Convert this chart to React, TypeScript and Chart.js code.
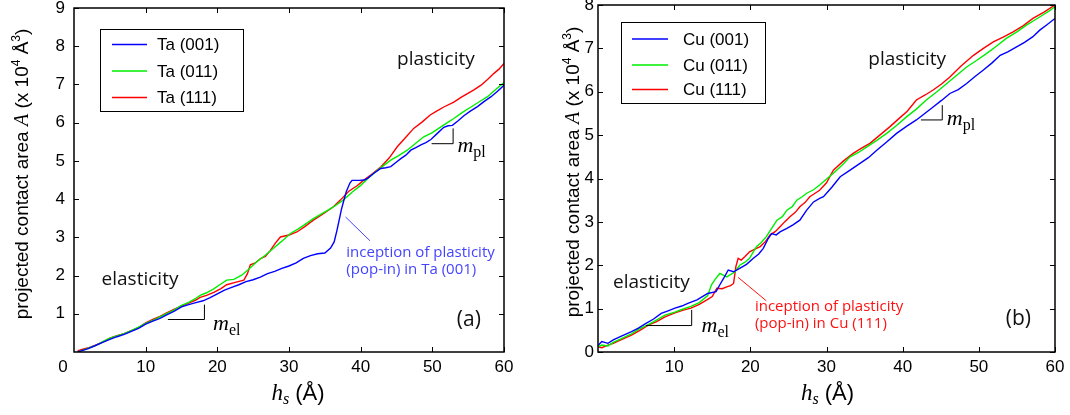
import React, { useEffect, useRef } from "react";
import { Chart, registerables } from "chart.js";

Chart.register(...registerables);

// ---------- Panel (a): tantalum ----------
const taHs001 = [0.5, 1, 2, 3, 4, 5, 6, 7, 8, 9, 10, 11, 12, 13, 14, 15, 16, 17, 18, 19, 20, 21, 22, 23, 24, 25, 26, 27, 28, 29, 30, 31, 32, 33, 34, 35,
  35.8, 36.3, 36.7, 37.0, 37.3, 37.6, 38.0, 38.5, 38.8,
  39.8, 40.5, 41.0, 41.8, 42.8, 43.5, 44.2, 45.0, 45.6, 46.3,
  47.0, 47.7, 48.4, 49.1, 49.8, 50.7, 51.6, 52.2, 52.8, 53.6,
  54.4, 55.3, 56.3, 57.2, 58.2, 59.1, 60];
const taA001 = [0, 0.03, 0.09, 0.17, 0.25, 0.33, 0.40, 0.46, 0.54, 0.62, 0.73, 0.81, 0.88, 0.98, 1.07, 1.18, 1.24, 1.29, 1.34, 1.42, 1.52, 1.62, 1.69, 1.76, 1.84, 1.89, 1.96, 2.05, 2.11, 2.19, 2.25, 2.33, 2.45, 2.52, 2.57, 2.59,
  2.72, 2.88, 3.19, 3.45, 3.72, 3.93, 4.20, 4.42, 4.49,
  4.49, 4.50, 4.55, 4.67, 4.80, 4.82, 4.85, 4.97, 5.06, 5.15,
  5.28, 5.35, 5.42, 5.48, 5.56, 5.72, 5.88, 5.92, 5.93, 6.05,
  6.18, 6.30, 6.42, 6.55, 6.68, 6.82, 6.98];

const taHs011 = [0.5, 1, 2, 3, 4, 5, 6, 7, 8, 9, 10, 11, 12, 13, 14, 15, 16, 17,
  17.6, 18.5, 19.5, 20.5, 21.3, 22.3, 23.4, 24.3, 25.5, 26.6,
  27.8, 29, 30.2, 31.3, 32.4, 33.4, 34.6, 35.8, 36.7, 37.6,
  38.8, 40, 40.9, 41.8, 43, 44.2, 45.3, 46.5, 47.6, 48.8,
  50, 51.2, 52.1, 53, 54.2, 55.4, 56.5, 57.7, 58.8, 60];
const taA011 = [0, 0.03, 0.10, 0.17, 0.27, 0.36, 0.42, 0.48, 0.56, 0.65, 0.75, 0.83, 0.92, 1.01, 1.10, 1.22, 1.30, 1.40,
  1.48, 1.55, 1.65, 1.78, 1.88, 1.90, 2.01, 2.15, 2.36, 2.52,
  2.71, 2.90, 3.10, 3.22, 3.36, 3.49, 3.62, 3.75, 3.86, 3.98,
  4.18, 4.36, 4.52, 4.67, 4.85, 5.02, 5.14, 5.28, 5.45, 5.63,
  5.74, 5.89, 6.00, 6.11, 6.27, 6.41, 6.54, 6.68, 6.86, 7.05];

const taHs111 = [0.5, 1, 2, 3, 4, 5, 6, 7, 8, 9, 10, 11, 12, 13, 14, 15, 16, 17,
  17.6, 18.5, 19.5, 20.5, 21.3, 22.5, 23.7, 24.2, 24.6, 25.3,
  26, 26.7, 27.4, 28.1, 28.8, 30, 31.1, 32.2, 33.4, 34.8,
  36.2, 37.2, 38.3, 39.5, 40.4, 41.4, 42.8, 44, 45.1, 46.3,
  47.4, 48.6, 49.7, 50.6, 51.6, 53, 54, 54.9, 55.8, 56.8,
  57.7, 58.6, 59.3, 60];
const taA111 = [0.03, 0.06, 0.11, 0.18, 0.26, 0.36, 0.43, 0.48, 0.56, 0.64, 0.76, 0.85, 0.93, 1.03, 1.12, 1.20, 1.28, 1.36,
  1.43, 1.48, 1.56, 1.66, 1.76, 1.82, 1.88, 2.05, 2.28, 2.33,
  2.44, 2.50, 2.66, 2.85, 3.01, 3.06, 3.14, 3.28, 3.45, 3.62,
  3.80, 3.98, 4.20, 4.35, 4.49, 4.63, 4.84, 5.08, 5.37, 5.62,
  5.85, 6.02, 6.20, 6.30, 6.41, 6.54, 6.66, 6.76, 6.86, 6.98,
  7.13, 7.29, 7.40, 7.55];

// ---------- Panel (b): copper ----------
const cuHs001 = [0, 0.5, 1.3, 2, 3, 4.4, 5.3, 6.3, 7.3, 8.3,
  9.2, 10.1, 11, 11.8, 13, 14.4, 15.5, 16, 16.6, 17.1,
  17.8, 18.6, 19.5, 20.4, 21.1, 21.7, 22.3, 22.8, 23.4, 23.9,
  24.8, 25.6, 26.5, 27.4, 28.3, 29.1, 29.6, 30.7, 31.8, 33,
  34.4, 35.5, 36.6, 37.9, 39.2, 40.5, 41.8, 42.9, 44, 45.1,
  46.2, 47.3, 48.4, 49.5, 50.6, 51.7, 52.8, 53.8, 54.9, 56,
  57.1, 58, 58.9, 60];
const cuA001 = [0.15, 0.24, 0.20, 0.28, 0.36, 0.47, 0.55, 0.66, 0.76, 0.89,
  0.95, 1.01, 1.06, 1.12, 1.20, 1.35, 1.39, 1.55, 1.73, 1.89,
  1.85, 1.93, 2.02, 2.16, 2.26, 2.39, 2.60, 2.73, 2.70, 2.77,
  2.85, 2.93, 3.04, 3.27, 3.46, 3.54, 3.58, 3.80, 4.04, 4.18,
  4.35, 4.48, 4.65, 4.84, 5.04, 5.20, 5.35, 5.50, 5.65, 5.80,
  5.96, 6.05, 6.19, 6.35, 6.50, 6.66, 6.84, 6.92, 7.03, 7.14,
  7.27, 7.42, 7.54, 7.69];

const cuHs011 = [0, 0.5, 1.3, 2, 3, 4.4, 5.3, 6.6, 7.5, 8.8,
  10.1, 11, 12.2, 13.3, 14.4, 14.9, 15.4, 16, 16.9, 18,
  18.6, 19.3, 19.9, 20.8, 21.4, 22.1, 22.8, 23.5, 24.2, 24.8,
  25.5, 26.1, 26.8, 27.4, 28.3, 29.1, 30.9, 32, 33.1, 34.2,
  35.3, 36.6, 37.9, 39.2, 40.5, 41.8, 43.1, 44.5, 45.8, 47.1,
  48.4, 49.7, 51, 52.3, 53.6, 55, 56.3, 57.4, 58.4, 59.2,
  60];
const cuA011 = [0.12, 0.16, 0.14, 0.22, 0.30, 0.42, 0.52, 0.63, 0.72, 0.85,
  0.92, 0.98, 1.05, 1.14, 1.30, 1.55, 1.68, 1.81, 1.73, 1.85,
  2.00, 2.07, 2.16, 2.43, 2.52, 2.66, 2.85, 3.04, 3.12, 3.27,
  3.35, 3.50, 3.58, 3.66, 3.74, 3.85, 4.12, 4.30, 4.50, 4.60,
  4.73, 4.88, 5.04, 5.22, 5.42, 5.60, 5.81, 6.00, 6.19, 6.38,
  6.57, 6.72, 6.88, 7.05, 7.23, 7.38, 7.54, 7.66, 7.77, 7.86,
  7.96];

const cuHs111 = [0, 0.5, 1.3, 2, 3, 4.4, 5.5, 6.6, 7.7, 8.8,
  10.1, 11.1, 12.2, 13.3, 14.3, 15, 15.6, 16.3, 16.9, 17.4,
  17.8, 18.1, 18.4, 18.8, 19.3, 19.9, 20.6, 21.3, 22, 22.6,
  23.3, 23.9, 24.5, 25.2, 25.9, 26.5, 27.2, 27.8, 28.5, 29.1,
  30, 30.9, 32.2, 33.5, 34.6, 35.7, 37, 38.3, 39.5, 40.6,
  41.8, 42.9, 44, 45.1, 46.2, 47.7, 49.3, 50.6, 51.9, 53.2,
  54.5, 55.8, 57.1, 58.5, 60];
const cuA111 = [0.12, 0.10, 0.16, 0.20, 0.28, 0.39, 0.50, 0.62, 0.70, 0.81,
  0.90, 0.96, 1.01, 1.10, 1.20, 1.28, 1.47, 1.46, 1.50, 1.53,
  1.58, 1.97, 2.16, 2.12, 2.20, 2.31, 2.37, 2.43, 2.55, 2.70,
  2.78, 2.89, 3.00, 3.12, 3.22, 3.35, 3.45, 3.58, 3.66, 3.73,
  3.90, 4.19, 4.40, 4.58, 4.70, 4.81, 5.00, 5.19, 5.38, 5.55,
  5.81, 5.92, 6.04, 6.18, 6.34, 6.60, 6.84, 7.00, 7.15, 7.26,
  7.38, 7.52, 7.69, 7.83, 8.00];

// Tick values and labels
const hsTicks = [10, 20, 30, 40, 50, 60];
const taTicks = [1, 2, 3, 4, 5, 6, 7, 8, 9];
const cuTicks = [0, 1, 2, 3, 4, 5, 6, 7, 8];
const taLabels = ["Ta (001)", "Ta (011)", "Ta (111)"];
const cuLabels = ["Cu (001)", "Cu (011)", "Cu (111)"];
const seriesColors = ["#0000ff", "#00ee00", "#ff0000"];

const SANS = '"Liberation Sans", Arial, Helvetica, sans-serif';
const SERIF = '"Liberation Serif", "Times New Roman", serif';
const CAL = '"Open Sans", "Noto Sans", sans-serif';

type Seg = { t: string; font: string; dy?: number };

function drawRich(ctx: CanvasRenderingContext2D, segs: Seg[], x: number, y: number, align: "left" | "center") {
  let w = 0;
  for (const s of segs) {
    ctx.font = s.font;
    w += ctx.measureText(s.t).width;
  }
  let cx = align === "center" ? x - w / 2 : x;
  ctx.textAlign = "left";
  ctx.textBaseline = "alphabetic";
  for (const s of segs) {
    ctx.font = s.font;
    ctx.fillText(s.t, cx, y + (s.dy || 0));
    cx += ctx.measureText(s.t).width;
  }
}

const yTitle: Seg[] = [
  { t: "projected contact area ", font: `19px ${SANS}` },
  { t: "A", font: `italic 20px ${SERIF}` },
  { t: " (x 10", font: `19px ${SANS}` },
  { t: "4", font: `12px ${SANS}`, dy: -8 },
  { t: " Å", font: `19px ${SANS}` },
  { t: "3", font: `12px ${SANS}`, dy: -8 },
  { t: ")", font: `19px ${SANS}` },
];
const xTitle: Seg[] = [
  { t: "h", font: `italic 23px ${SERIF}` },
  { t: "s", font: `italic 16px ${SERIF}`, dy: 4 },
  { t: " (Å)", font: `22px ${SANS}` },
];
const slopeLabel = (sub: string): Seg[] => [
  { t: "m", font: `italic 22px ${SERIF}` },
  { t: sub, font: `16px ${SERIF}`, dy: 5 },
];

type Note = {
  plastic: [number, number];
  elastic: [number, number];
  elMark: [number, number, number, number];
  elText: [number, number];
  plMark: [number, number, number, number];
  plText: [number, number];
  pointer: [number, number, number, number];
  popText: [number, number, number];
  popLines: string[];
  popColor: string;
  tag: string;
  tagPos: [number, number];
};

type Spec = {
  hs: number[][];
  area: number[][];
  labels: string[];
  yTicks: number[];
  yMax: number;
  box: { left: number; right: number; top: number; bottom: number };
  yPad: number;
  legend: { x0: number; y0: number; w: number; h: number; lx0: number; lx1: number; tx: number; rows: number[] };
  yTitleX: number;
  yTitleY: number;
  xTitleDx: number;
  zeroLabel: boolean;
  note: Note;
};

const W = 535;
const H = 415;

const panelA: Spec = {
  hs: [taHs001, taHs011, taHs111],
  area: [taA001, taA011, taA111],
  labels: taLabels,
  yTicks: taTicks,
  yMax: 9,
  box: { left: 74, right: 504, top: 8, bottom: 352 },
  yPad: 9,
  legend: { x0: 100.5, y0: 29.5, w: 143, h: 82, lx0: 112, lx1: 147, tx: 157, rows: [44.5, 71, 97.5] },
  yTitleX: 28,
  yTitleY: 174,
  xTitleDx: 9,
  zeroLabel: true,
  note: {
    plastic: [50.5, 7.64],
    elastic: [3.85, 1.9],
    elMark: [13.1, 18.2, 0.85, 1.24],
    elText: [19.4, 0.57],
    plMark: [49.9, 52.9, 5.45, 5.85],
    plText: [53.5, 5.24],
    pointer: [37.9, 3.53, 41.3, 2.91],
    popText: [38.0, 2.59, 2.14],
    popLines: ["inception of plasticity", "(pop-in) in Ta (001)"],
    popColor: "#4444ff",
    tag: "(a)",
    tagPos: [55.1, 0.83],
  },
};

const panelB: Spec = {
  hs: [cuHs001, cuHs011, cuHs111],
  area: [cuA001, cuA011, cuA111],
  labels: cuLabels,
  yTicks: cuTicks,
  yMax: 8,
  box: { left: 63, right: 520, top: 5, bottom: 352 },
  yPad: 4,
  legend: { x0: 86.5, y0: 22.5, w: 144, h: 81, lx0: 97, lx1: 133, tx: 148, rows: [39, 65, 89.5] },
  yTitleX: 44,
  yTitleY: 172,
  xTitleDx: 1,
  zeroLabel: false,
  note: {
    plastic: [40.6, 6.73],
    elastic: [1.97, 1.59],
    elMark: [6.3, 12.3, 0.61, 0.97],
    elText: [13.6, 0.47],
    plMark: [42.4, 45.2, 5.35, 5.69],
    plText: [45.8, 5.23],
    pointer: [18.4, 1.72, 22.1, 1.18],
    popText: [20.6, 1.04, 0.66],
    popLines: ["inception of plasticity", "(pop-in) in Cu (111)"],
    popColor: "#ff1111",
    tag: "(b)",
    tagPos: [55.2, 0.75],
  },
};

function makeDecor(spec: Spec) {
  return {
    id: "decor",
    afterDatasetsDraw(chart: any) {
      const ctx: CanvasRenderingContext2D = chart.ctx;
      const a = chart.chartArea;
      const sx = chart.scales.x;
      const sy = chart.scales.y;
      const px = (v: number) => sx.getPixelForValue(v);
      const py = (v: number) => sy.getPixelForValue(v);
      const n = spec.note;
      ctx.save();

      // frame box
      ctx.strokeStyle = "#000";
      ctx.lineWidth = 1.5;
      ctx.strokeRect(a.left, a.top, a.right - a.left, a.bottom - a.top);

      // inward ticks on all four sides
      ctx.lineWidth = 1;
      ctx.beginPath();
      for (const v of hsTicks) {
        const p = Math.round(px(v)) + 0.5;
        ctx.moveTo(p, a.bottom);
        ctx.lineTo(p, a.bottom - 5);
        ctx.moveTo(p, a.top);
        ctx.lineTo(p, a.top + 5);
      }
      for (const v of spec.yTicks) {
        const p = Math.round(py(v)) + 0.5;
        ctx.moveTo(a.left, p);
        ctx.lineTo(a.left + 5, p);
        ctx.moveTo(a.right, p);
        ctx.lineTo(a.right - 5, p);
      }
      ctx.stroke();

      ctx.fillStyle = "#000";
      if (spec.zeroLabel) {
        ctx.font = `17px ${SANS}`;
        ctx.textAlign = "center";
        ctx.textBaseline = "middle";
        ctx.fillText("0", a.left - 11, a.bottom + 15);
      }

      // legend
      const L = spec.legend;
      ctx.fillStyle = "#fff";
      ctx.fillRect(L.x0, L.y0, L.w, L.h);
      ctx.strokeStyle = "#000";
      ctx.lineWidth = 1;
      ctx.strokeRect(L.x0, L.y0, L.w, L.h);
      ctx.font = `17px ${SANS}`;
      ctx.textAlign = "left";
      ctx.textBaseline = "middle";
      spec.labels.forEach((lab, i) => {
        ctx.strokeStyle = seriesColors[i];
        ctx.lineWidth = 1.5;
        ctx.beginPath();
        ctx.moveTo(L.lx0, L.rows[i]);
        ctx.lineTo(L.lx1, L.rows[i]);
        ctx.stroke();
        ctx.fillStyle = "#000";
        ctx.fillText(lab, L.tx, L.rows[i] + 1);
      });

      // regime labels
      ctx.fillStyle = "#111";
      ctx.font = `19px ${CAL}`;
      ctx.textBaseline = "middle";
      ctx.textAlign = "center";
      ctx.fillText("plasticity", px(n.plastic[0]), py(n.plastic[1]));
      ctx.textAlign = "left";
      ctx.fillText("elasticity", px(n.elastic[0]), py(n.elastic[1]));

      // slope markers
      ctx.strokeStyle = "#000";
      ctx.lineWidth = 1;
      for (const m of [n.elMark, n.plMark]) {
        ctx.beginPath();
        ctx.moveTo(px(m[0]), py(m[2]));
        ctx.lineTo(px(m[1]), py(m[2]));
        ctx.lineTo(px(m[1]), py(m[3]));
        ctx.stroke();
      }
      ctx.fillStyle = "#000";
      drawRich(ctx, slopeLabel("el"), px(n.elText[0]), py(n.elText[1]), "left");
      drawRich(ctx, slopeLabel("pl"), px(n.plText[0]), py(n.plText[1]), "left");

      // pop-in pointer and note
      ctx.strokeStyle = n.popColor;
      ctx.lineWidth = 1;
      ctx.beginPath();
      ctx.moveTo(px(n.pointer[0]), py(n.pointer[1]));
      ctx.lineTo(px(n.pointer[2]), py(n.pointer[3]));
      ctx.stroke();
      ctx.fillStyle = n.popColor;
      ctx.font = `15px ${CAL}`;
      ctx.textAlign = "left";
      ctx.textBaseline = "middle";
      ctx.fillText(n.popLines[0], px(n.popText[0]), py(n.popText[1]));
      ctx.fillText(n.popLines[1], px(n.popText[0]), py(n.popText[2]));

      // panel tag
      ctx.fillStyle = "#111";
      ctx.font = `21px ${CAL}`;
      ctx.textAlign = "center";
      ctx.fillText(n.tag, px(n.tagPos[0]), py(n.tagPos[1]));

      // axis titles
      ctx.fillStyle = "#000";
      ctx.save();
      ctx.translate(spec.yTitleX, spec.yTitleY);
      ctx.rotate(-Math.PI / 2);
      drawRich(ctx, yTitle, 0, 0, "center");
      ctx.restore();
      drawRich(ctx, xTitle, (a.left + a.right) / 2 + spec.xTitleDx, 400, "center");

      ctx.restore();
    },
  };
}

function Panel({ spec }: { spec: Spec }) {
  const ref = useRef<HTMLCanvasElement | null>(null);
  useEffect(() => {
    if (!ref.current) return;
    const b = spec.box;
    const chart = new Chart(ref.current, {
      type: "line",
      data: {
        datasets: spec.labels.map((lab, i) => ({
          label: lab,
          data: spec.hs[i].map((x, k) => ({ x, y: spec.area[i][k] })),
          borderColor: seriesColors[i],
          borderWidth: 1.4,
          pointRadius: 0,
          tension: 0,
          fill: false,
        })),
      },
      options: {
        animation: false,
        responsive: false,
        devicePixelRatio: 1,
        events: [],
        layout: { padding: { left: 0, top: b.top, right: W - b.right, bottom: 0 } },
        plugins: { legend: { display: false }, tooltip: { enabled: false }, title: { display: false } },
        scales: {
          x: {
            type: "linear",
            min: 0,
            max: 60,
            afterBuildTicks: (s: any) => {
              s.ticks = hsTicks.map((v) => ({ value: v }));
            },
            afterFit: (s: any) => {
              s.height = H - b.bottom;
              s.paddingLeft = 0;
              s.paddingRight = 0;
            },
            ticks: { font: { family: SANS, size: 17 }, color: "#000", padding: 5, maxRotation: 0, autoSkip: false },
            grid: { display: false, drawTicks: false },
            border: { display: false },
          },
          y: {
            type: "linear",
            min: 0,
            max: spec.yMax,
            afterBuildTicks: (s: any) => {
              s.ticks = spec.yTicks.map((v) => ({ value: v }));
            },
            afterFit: (s: any) => {
              s.width = b.left;
              s.paddingTop = 0;
              s.paddingBottom = 0;
            },
            ticks: { font: { family: SANS, size: 17 }, color: "#000", padding: spec.yPad, autoSkip: false },
            grid: { display: false, drawTicks: false },
            border: { display: false },
          },
        },
      },
      plugins: [makeDecor(spec)],
    } as any);
    return () => chart.destroy();
  }, [spec]);
  return <canvas ref={ref} width={W} height={H} style={{ display: "block", width: W, height: H }} />;
}

export default function App() {
  return (
    <div style={{ position: "absolute", left: 0, top: 0, width: 1070, height: 415, display: "flex", background: "#fff" }}>
      <Panel spec={panelA} />
      <Panel spec={panelB} />
    </div>
  );
}
